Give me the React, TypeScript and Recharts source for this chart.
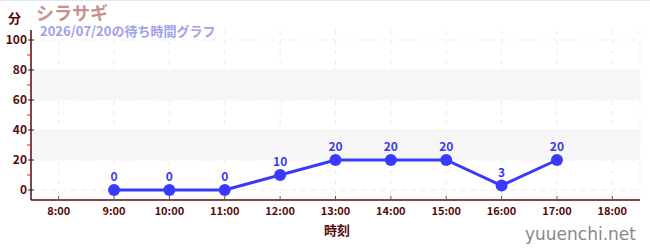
import React from "react";
import {
  LineChart,
  Line,
  XAxis,
  YAxis,
  CartesianGrid,
  ReferenceArea,
  LabelList,
} from "recharts";

const hours = [9, 10, 11, 12, 13, 14, 15, 16, 17];
const waits = [0, 0, 0, 10, 20, 20, 20, 3, 20];
const xTicks = [8, 9, 10, 11, 12, 13, 14, 15, 16, 17, 18];
const yTicks = [0, 10, 20, 30, 40, 50, 60, 70, 80, 90, 100];
const yGrid = [0, 20, 40, 60, 80, 100];

const data = hours.map((h, i) => ({ hour: h, wait: waits[i] }));

const FONT = "'Noto Sans CJK JP', 'Noto Sans', sans-serif";
const AXIS = "#5a0a0a";

function YTick(props: any) {
  const { x, y, payload } = props;
  const v = payload.value;
  const ax = x + 5;
  if (v % 20 !== 0) {
    return <line x1={ax - 4} x2={ax} y1={y} y2={y} stroke="#e02020" strokeWidth={1} />;
  }
  return (
    <g>
      <line x1={ax - 3} x2={ax + 3} y1={y} y2={y} stroke="#222" strokeWidth={1} />
      <text x={ax - 4} y={y} dy={4} textAnchor="end" fontSize={12} fontWeight="bold" fill={AXIS} fontFamily={FONT}>
        {v}
      </text>
    </g>
  );
}

function XTick(props: any) {
  const { x, y, payload } = props;
  return (
    <g>
      <line x1={x} x2={x} y1={y - 8} y2={y - 4} stroke="#555" strokeWidth={1} />
      <text x={x} y={y} dy={11} textAnchor="middle" fontSize={11} fontWeight="bold" fill={AXIS} fontFamily={FONT}>
        {`${payload.value}:00`}
      </text>
    </g>
  );
}

export default function App() {
  return (
    <div style={{ position: "absolute", left: 0, top: 0, width: 650, height: 250, background: "#fff" }}>
      <div style={{ position: "absolute", left: 0, top: 0, width: 650, height: 1, background: "#e4e4f4" }} />
      <LineChart
        width={650}
        height={250}
        data={data}
        margin={{ top: 30, right: 10, left: 0, bottom: 0 }}
      >
        <ReferenceArea y1={20} y2={40} fill="#f6f6f6" fillOpacity={1} stroke="none" />
        <ReferenceArea y1={60} y2={80} fill="#f6f6f6" fillOpacity={1} stroke="none" />
        <CartesianGrid strokeDasharray="5 5" stroke="#ebebeb" horizontalValues={yGrid} />
        <XAxis
          dataKey="hour"
          type="number"
          domain={[7.5, 18.5]}
          ticks={xTicks}
          height={50}
          tickLine={false}
          tickSize={0}
          tickMargin={4}
          stroke={AXIS}
          strokeWidth={1.5}
          tick={<XTick />}
          interval={0}
        />
        <YAxis
          type="number"
          domain={[-20 / 3, 320 / 3]}
          allowDataOverflow
          ticks={yTicks}
          width={31}
          tickLine={false}
          tickSize={0}
          tickMargin={5}
          stroke={AXIS}
          strokeWidth={1.5}
          tick={<YTick />}
          interval={0}
        />
        <Line
          dataKey="wait"
          stroke="#3a3aff"
          strokeWidth={3}
          dot={{ r: 6, fill: "#3a3aff", stroke: "#3a3aff", strokeWidth: 0 }}
          isAnimationActive={false}
        >
          <LabelList
            dataKey="wait"
            position="top"
            offset={9}
            fill="#3a3aee"
            fontSize={12}
            fontWeight="bold"
            fontFamily={FONT}
          />
        </Line>
        <text x={8} y={23} fontSize={13} fontWeight="bold" fill="#5a0a0a" fontFamily={FONT}>分</text>
        <text x={36} y={20} fontSize={18} fontWeight="bold" fill="#c89090" fontFamily={FONT}>シラサギ</text>
        <text x={40} y={36} fontSize={13} fontWeight="bold" fill="#a0a0ee" fontFamily={FONT}>2026/07/20の待ち時間グラフ</text>
        <text x={337} y={235} textAnchor="middle" fontSize={13} fontWeight="bold" fill="#5a0a0a" fontFamily={FONT}>時刻</text>
        <text x={636} y={240} textAnchor="end" fontSize={17} fill="#888" fontFamily="'DejaVu Sans', sans-serif">yuuenchi.net</text>
      </LineChart>
    </div>
  );
}
